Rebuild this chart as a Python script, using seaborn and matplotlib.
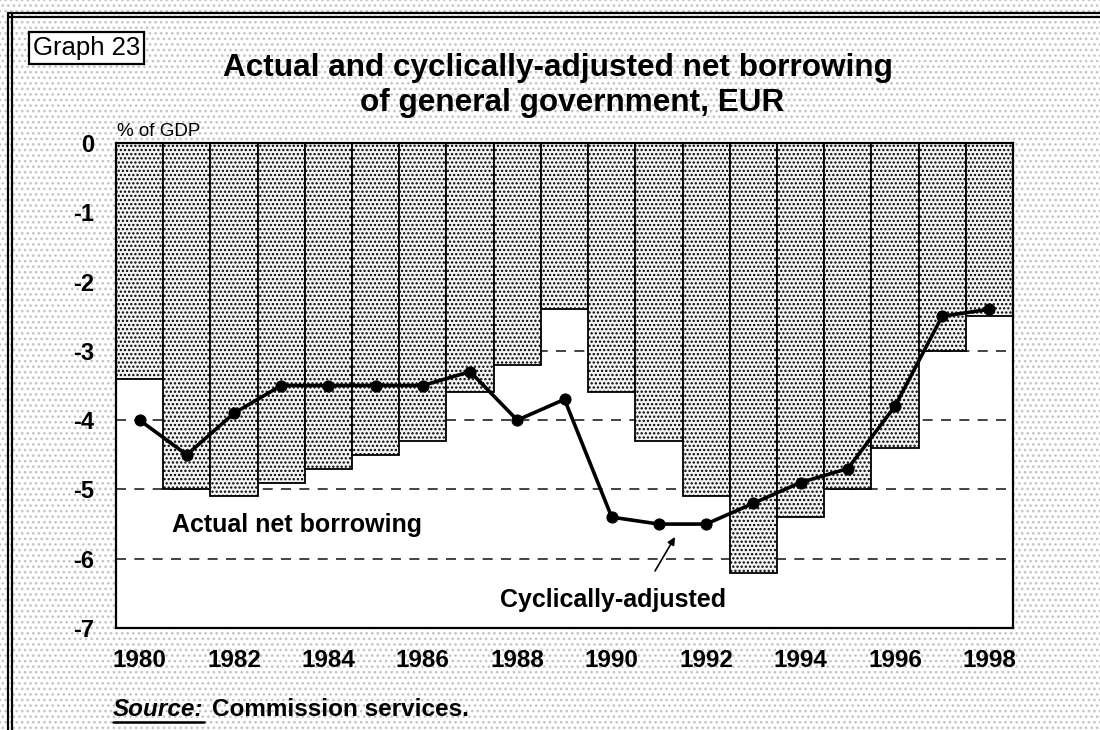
import numpy as np
import pandas as pd
import matplotlib
matplotlib.use("Agg")
import matplotlib.pyplot as plt
from matplotlib.patches import Rectangle
from matplotlib.lines import Line2D
import seaborn as sns

years = list(range(1980, 1999))
actual = [-3.4, -5.0, -5.1, -4.9, -4.7, -4.5, -4.3, -3.6, -3.2, -2.4,
          -3.6, -4.3, -5.1, -6.2, -5.4, -5.0, -4.4, -3.0, -2.5]
cyclical = [-4.0, -4.5, -3.9, -3.5, -3.5, -3.5, -3.5, -3.3, -4.0, -3.7,
            -5.4, -5.5, -5.5, -5.2, -4.9, -4.7, -3.8, -2.5, -2.4]
ytick_values = [0, -1, -2, -3, -4, -5, -6, -7]
xtick_years = list(range(1980, 1999, 2))

sns.set_theme(style="white")
plt.rcParams['font.family'] = ['Liberation Sans', 'DejaVu Sans']
plt.rcParams['axes.unicode_minus'] = False
plt.rcParams['hatch.linewidth'] = 1.1
plt.rcParams['hatch.color'] = '#3a3a3a'
plt.rcParams['text.color'] = 'black'
plt.rcParams['xtick.color'] = 'black'
plt.rcParams['ytick.color'] = 'black'
plt.rcParams['xtick.labelcolor'] = 'black'
plt.rcParams['ytick.labelcolor'] = 'black'

W, H = 1100, 730
def fx(px):
    return px / W
def fy(py):
    return 1 - py / H

df = pd.DataFrame({"year": years, "actual": actual, "cyclical": cyclical})

fig = plt.figure(figsize=(11, 7.3), dpi=100)
fig.patch.set_facecolor('white')
bg = Rectangle((0, 0), 1, 1, transform=fig.transFigure, facecolor='white',
               edgecolor='#c4c4c4', linewidth=0, hatch='...', zorder=-10)
fig.patches.append(bg)
for py in [13, 17]:
    fig.lines.append(Line2D([fx(8), 1], [fy(py), fy(py)], transform=fig.transFigure,
                            color='black', lw=1.6))
for px in [8, 12]:
    fig.lines.append(Line2D([fx(px), fx(px)], [0, fy(13)], transform=fig.transFigure,
                            color='black', lw=1.6))

ax = fig.add_axes([fx(116), fy(628), (1013 - 116) / W, (628 - 143) / H])
ax.set_facecolor('white')

for v in [-1, -2, -3, -4, -5, -6]:
    ax.axhline(v, color='#222222', lw=1.2, ls=(0, (6, 5)), zorder=0)

sns.barplot(data=df, x="year", y="actual", native_scale=True, width=1.0,
            color='white', edgecolor='black', linewidth=1.3, ax=ax,
            saturation=1, zorder=2)
for p in ax.patches:
    p.set_hatch('....')
    p.set_facecolor('#f4f4f4')

sns.lineplot(data=df, x="year", y="cyclical", color='black', lw=2.6,
             marker='o', markersize=8, markeredgecolor='black', ax=ax, zorder=4)

ax.set_xlim(1979.5, 1998.5)
ax.set_ylim(-7, 0)
ax.set_xticks(xtick_years)
ax.set_xticklabels([str(y) for y in xtick_years], fontsize=17.5, fontweight='bold')
ax.set_yticks(ytick_values)
ax.set_yticklabels([str(v) for v in ytick_values], fontsize=17, fontweight='bold')
ax.tick_params(axis='x', direction='in', length=11, width=1.2, color='black', pad=15)
ax.tick_params(axis='y', length=0, pad=16)
ax.set_xlabel('')
ax.set_ylabel('')
for s in ax.spines.values():
    s.set_visible(True)
    s.set_color('black')
    s.set_linewidth(1.6)
    s.set_zorder(5)

fig.text(fx(558), fy(76), 'Actual and cyclically-adjusted net borrowing',
         ha='center', va='baseline', fontsize=22.7, fontweight='bold')
fig.text(fx(572), fy(111), 'of general government, EUR',
         ha='center', va='baseline', fontsize=22.7, fontweight='bold')
fig.text(fx(33), fy(48), 'Graph 23', ha='left', va='center', fontsize=18.5,
         bbox=dict(boxstyle='square,pad=0.15', facecolor='white',
                   edgecolor='black', linewidth=1.6))
fig.text(fx(117), fy(136), '% of GDP', ha='left', va='baseline', fontsize=13.5)

def to_data(px, py):
    return 1979.5 + (px - 116) / (897 / 19), -(py - 143) / (485 / 7)

ax.text(*to_data(172, 532), 'Actual net borrowing', ha='left', va='baseline',
        fontsize=18, fontweight='bold')
ax.text(*to_data(726, 607), 'Cyclically-adjusted', ha='right', va='baseline',
        fontsize=18, fontweight='bold')
ax.annotate('', xy=to_data(675, 537), xytext=to_data(655, 571),
            arrowprops=dict(arrowstyle='-|>', color='black', lw=1.2,
                            mutation_scale=11, shrinkA=0, shrinkB=0))

t1 = fig.text(fx(113), fy(716), 'Source:', ha='left', va='baseline',
              fontsize=17.5, fontweight='bold', style='italic')
fig.canvas.draw()
bb = t1.get_window_extent()
fig.lines.append(Line2D([bb.x0 / W, bb.x1 / W], [fy(722), fy(722)],
                        transform=fig.transFigure, color='black', lw=1.8))
fig.text(fx(212), fy(716), 'Commission services.',
         ha='left', va='baseline', fontsize=17.5, fontweight='bold')

fig.savefig('out.png', dpi=100)
